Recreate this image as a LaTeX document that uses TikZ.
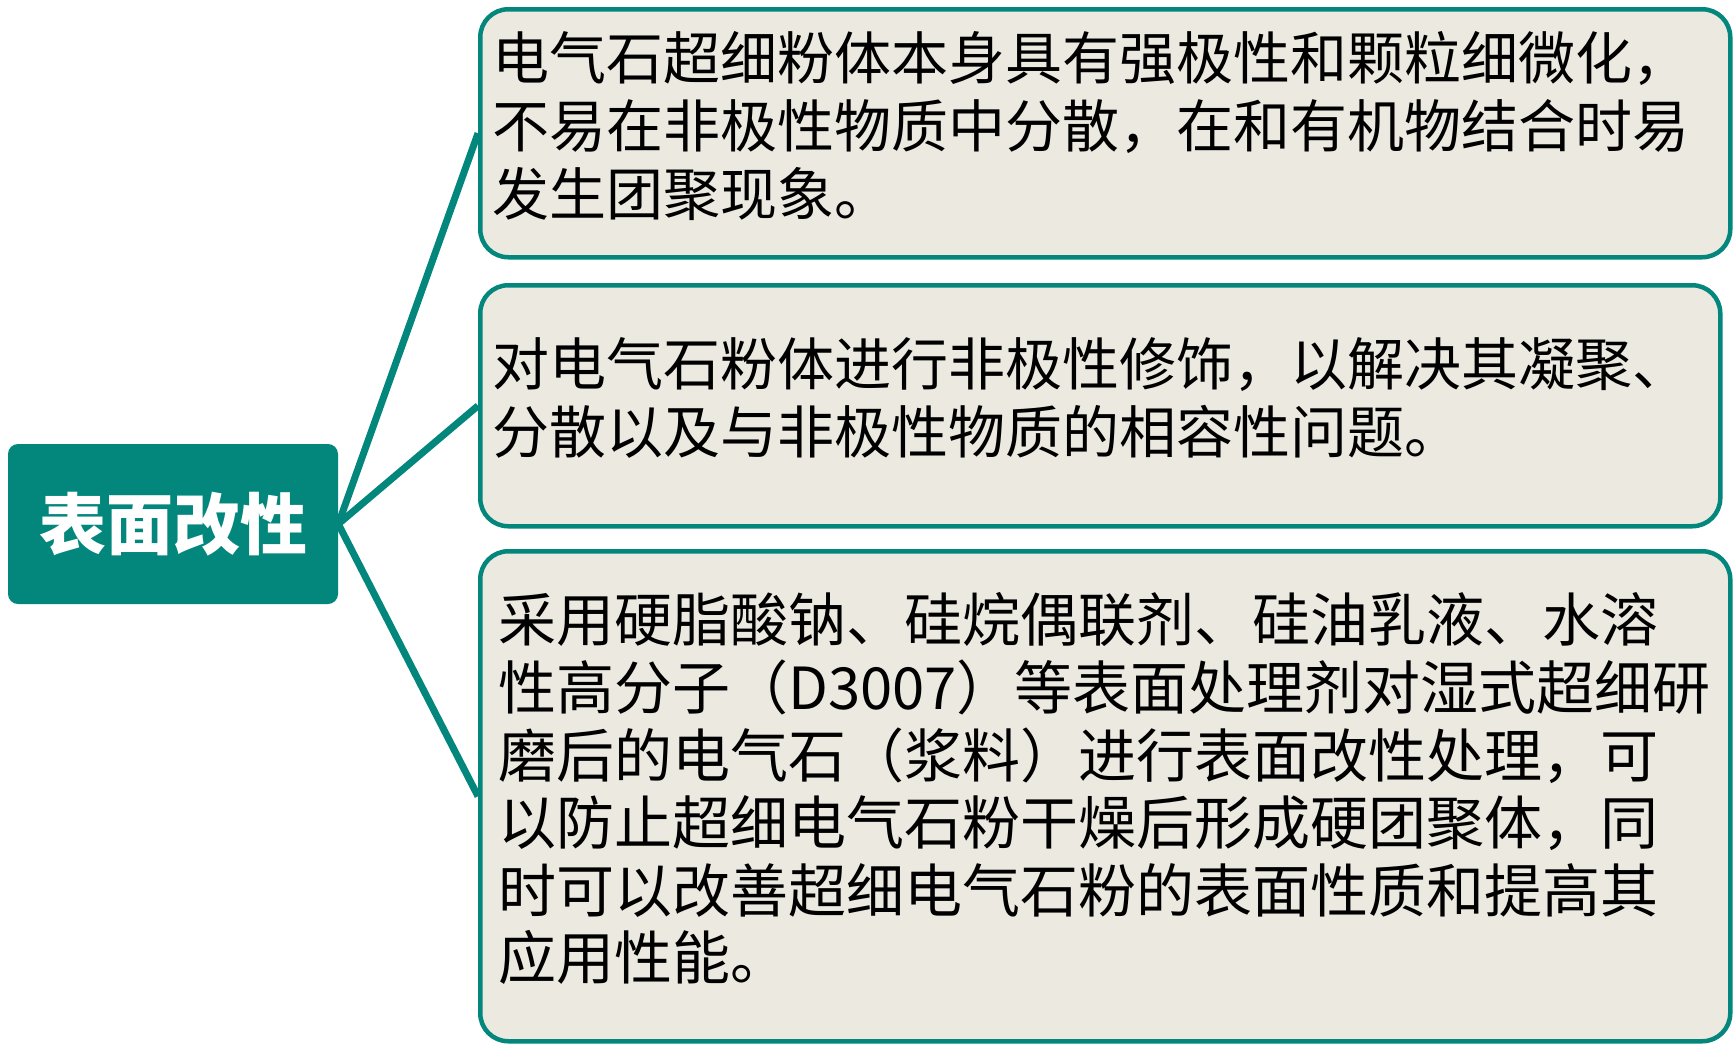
\documentclass[tikz,border=0pt]{standalone}
\usepackage{fontspec}
\setmainfont{Noto Sans CJK SC}
\usetikzlibrary{positioning}
\definecolor{smteal}{RGB}{3,135,124}
\definecolor{smbeige}{RGB}{236,233,224}

\begin{document}
\begin{tikzpicture}[x=1pt,y=-1pt,semithick,
    root/.style={fill=smteal,rounded corners=10pt,text=white,font=\fontsize{67}{72}\selectfont\bfseries,minimum width=330pt,minimum height=160pt},
    leaf/.style={draw=smteal,line width=4.5pt,fill=smbeige,rounded corners=28pt,align=left,anchor=north west,font=\fontsize{57}{68}\selectfont,execute at end node={\endgraf\vspace{15pt}}},
    link/.style={draw=smteal,line width=7pt}]
        \useasboundingbox (0,0) rectangle (1736,1050);
        \node[root] (SM) at (173,524) {表面改性};
        \node[leaf] (T1) at (478,7) [text width=1226pt,inner xsep=12pt,minimum height=248pt] {电气石超细粉体本身具有强极性和颗粒细微化，\\不易在非极性物质中分散，在和有机物结合时易\\发生团聚现象。};
        \node[leaf] (T2) at (478,283) [text width=1216pt,inner xsep=12pt,minimum height=241pt] {对电气石粉体进行非极性修饰，以解决其凝聚、\\分散以及与非极性物质的相容性问题。};
        \node[leaf] (T3) at (478,549) [text width=1214pt,inner xsep=18pt,minimum height=490pt,font=\fontsize{58}{67.6}\selectfont] {采用硬脂酸钠、硅烷偶联剂、硅油乳液、水溶\\性高分子（D3007）等表面处理剂对湿式超细研\\磨后的电气石（浆料）进行表面改性处理，可\\以防止超细电气石粉干燥后形成硬团聚体，同\\时可以改善超细电气石粉的表面性质和提高其\\应用性能。};
        \path
        (SM.east) edge[link] (T1.west)
                  edge[link] (T2.west)
                  edge[link] (T3.west)
        ;
\end{tikzpicture}
\end{document}
